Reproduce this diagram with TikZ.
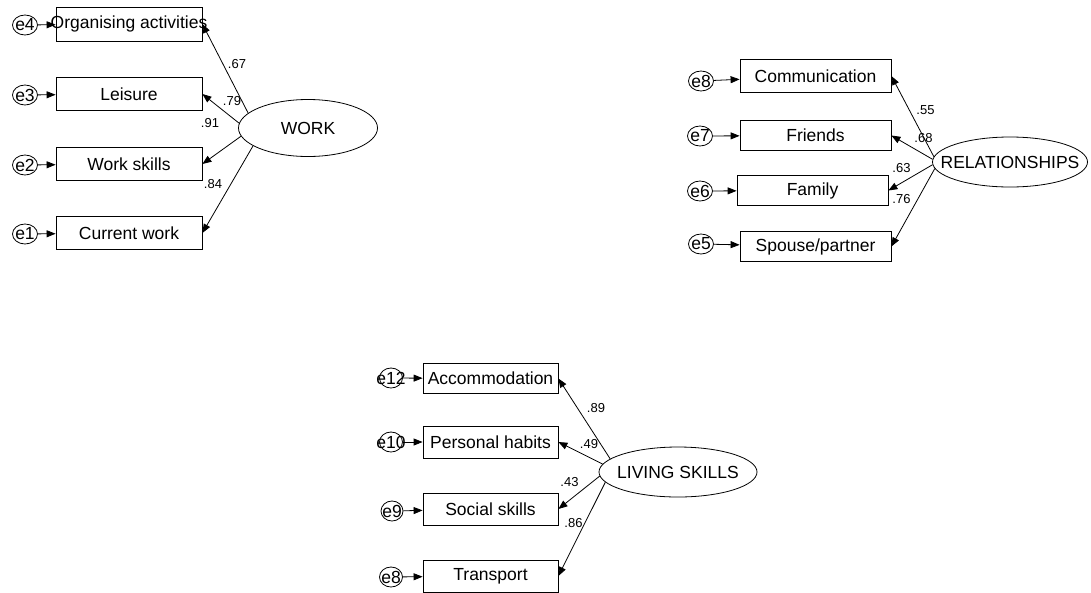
\documentclass[tikz,border=0pt]{standalone}
\usepackage{fontspec}
\setmainfont{Liberation Sans}
\usepackage{tikz}
\usetikzlibrary{arrows.meta, shapes.geometric}

\newcommand{\fixw}[1]{\makebox[0pt]{#1}}

\tikzset{
	obs/.style={draw, rectangle, line width=0.8pt, minimum width=#1, minimum height=32, inner sep=0pt, font=\fontsize{17.5}{20}\selectfont},
	err/.style={draw, ellipse, line width=0.8pt, minimum width=25, minimum height=20, inner sep=0pt, font=\fontsize{17.5}{20}\selectfont},
	lat/.style={draw, ellipse, line width=0.8pt, inner sep=0pt, font=\fontsize{17.5}{20}\selectfont},
	load/.style={-{Triangle[length=9pt, width=7pt]}, line width=0.8pt},
	coef/.style={inner sep=0pt, font=\fontsize{13}{15}\selectfont}
}

\begin{document}
\begin{tikzpicture}[x=1pt, y=-1pt]
	\useasboundingbox (0,0) rectangle (1091,592);

	% WORK
	\node [lat, minimum width=139, minimum height=57] (work) at (308,128) {\fixw{WORK}};
	\node [obs=146, minimum height=34] (org) at (129,24) {\fixw{Organising activities}};
	\node [obs=146, minimum height=33] (lei) at (129,94) {Leisure};
	\node [obs=146, minimum height=33] (wsk) at (129,164) {Work skills};
	\node [obs=146, minimum height=33] (cur) at (129,233) {Current work};
	\node [err] (e4) at (25,25) {\fixw{e4}};
	\node [err] (e3) at (25,95) {\fixw{e3}};
	\node [err] (e2) at (25,165) {\fixw{e2}};
	\node [err] (e1) at (25,234) {\fixw{e1}};

	\draw [load] (e4) -- (org);
	\draw [load] (e3) -- (lei);
	\draw [load] (e2) -- (wsk);
	\draw [load] (e1) -- (cur);
	\draw [load] (work.166) -- (org.east);
	\draw [load] (work.176) -- (lei.east);
	\draw [load] (work.187) -- (wsk.east);
	\draw [load] (work.198) -- (cur.east);

	\node [coef] (w67) at (237,64) {.67};
	\node [coef] (w79) at (232,101) {.79};
	\node [coef] (w91) at (210,123) {.91};
	\node [coef] (w84) at (213,184) {.84};

	% RELATIONSHIPS
	\node [lat, minimum width=155, minimum height=50] (rel) at (1010,162) {\fixw{RELATIONSHIPS}};
	\node [obs=151, minimum height=33] (com) at (815.5,76) {Communication};
	\node [obs=151, minimum height=30] (fri) at (815.5,135.5) {Friends};
	\node [obs=151, minimum height=30] (fam) at (812.5,190.5) {Family};
	\node [obs=151, minimum height=30] (spo) at (815.5,246.5) {Spouse/partner};
	\node [err] (e8) at (701,81) {\fixw{e8}};
	\node [err] (e7) at (700,136) {\fixw{e7}};
	\node [err] (e6) at (700,191) {\fixw{e6}};
	\node [err] (e5) at (701,244) {\fixw{e5}};

	\draw [load] (e8) -- (com);
	\draw [load] (e7) -- (fri);
	\draw [load] (e6) -- (fam);
	\draw [load] (e5) -- (spo);
	\draw [load] (rel.176) -- (com.east);
	\draw [load] (rel.178) -- (fri.east);
	\draw [load] (rel.182) -- (fam.east);
	\draw [load] (rel.185) -- (spo.east);

	\node [coef] (r55) at (925.5,110.5) {.55};
	\node [coef] (r68) at (923.5,138.5) {.68};
	\node [coef] (r63) at (901.5,168.5) {.63};
	\node [coef] (r76) at (901.5,199) {.76};

	% LIVING SKILLS
	\node [lat, minimum width=158, minimum height=50] (liv) at (678,472) {\fixw{LIVING SKILLS}};
	\node [obs=135, minimum height=30] (acc) at (490.5,378.5) {Accommodation};
	\node [obs=135, minimum height=32] (per) at (490.5,442) {Personal habits};
	\node [obs=135, minimum height=32] (soc) at (490.5,509) {Social skills};
	\node [obs=135, minimum height=32] (tra) at (490.5,576) {Transport};
	\node [err, minimum width=23] (e12) at (391,378) {\fixw{e12}};
	\node [err, minimum width=23] (e10) at (391,442) {\fixw{e10}};
	\node [err, minimum width=22] (e9) at (392,511) {\fixw{e9}};
	\node [err, minimum width=23] (e8b) at (391,577) {\fixw{e8}};

	\draw [load] (e12) -- (acc);
	\draw [load] (e10) -- (per);
	\draw [load] (e9) -- (soc);
	\draw [load] (e8b) -- (tra);
	\draw [load] (liv.169) -- (acc.east);
	\draw [load] (liv.174) -- (per.east);
	\draw [load] (liv.183) -- (soc.east);
	\draw [load] (liv.188) -- (tra.east);

	\node [coef] (l89) at (596,408) {.89};
	\node [coef] (l49) at (589,444) {.49};
	\node [coef] (l43) at (569.5,482.5) {.43};
	\node [coef] (l86) at (573.5,523.5) {.86};
\end{tikzpicture}
\end{document}
